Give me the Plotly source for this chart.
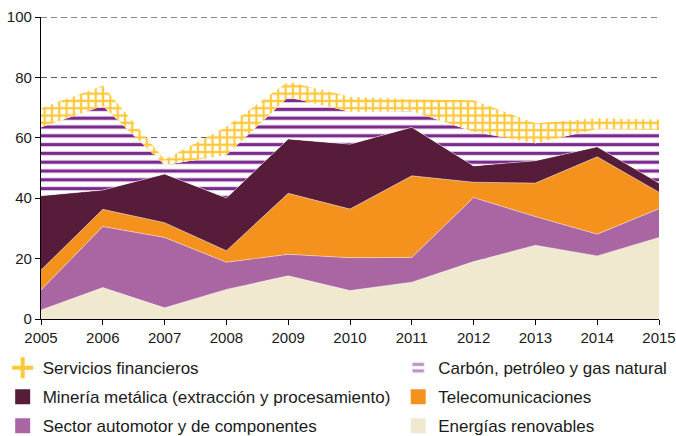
import plotly.graph_objects as go

YEARS = [2005, 2006, 2007, 2008, 2009, 2010, 2011, 2012, 2013, 2014, 2015]

# values per sector (stacked from bottom to top)
renovables = [3.0, 10.4, 3.7, 9.8, 14.3, 9.4, 12.2, 19.0, 24.4, 20.9, 27.0]
automotor = [6.6, 20.2, 23.3, 9.0, 7.1, 10.9, 8.2, 21.2, 9.5, 7.2, 9.5]
telecom = [6.6, 5.7, 4.9, 3.8, 20.2, 16.1, 27.0, 5.1, 11.1, 25.6, 5.5]
mineria = [24.6, 6.4, 16.1, 17.5, 18.0, 21.5, 16.1, 5.4, 7.4, 3.3, 3.0]
carbon = [22.7, 27.8, 3.0, 14.2, 13.8, 10.7, 5.4, 11.3, 5.8, 5.9, 17.6]
servicios = [6.3, 6.7, 1.8, 9.4, 5.2, 5.0, 3.9, 10.4, 6.6, 3.6, 3.5]

Y_TICKS = [0, 20, 40, 60, 80, 100]

CREAM = "#F0E9D0"
LILAC = "#AA66A3"
ORANGE = "#F5921E"
MAROON = "#561C3A"
PURPLE = "#7B2A8E"
YELLOW = "#FFC83A"
GRID = "#606060"
FONT = "Liberation Sans, Arial, sans-serif"

EDGE = dict(width=0.6, color="rgba(255,255,255,0.7)")

fig = go.Figure()

solid_layers = [
    ("Energías renovables", renovables, CREAM),
    ("Sector automotor y de componentes", automotor, LILAC),
    ("Telecomunicaciones", telecom, ORANGE),
    ("Minería metálica (extracción y procesamiento)", mineria, MAROON),
]
for name, vals, color in solid_layers:
    fig.add_trace(go.Scatter(
        x=YEARS, y=vals, name=name, stackgroup="s", mode="lines",
        line=EDGE, fillcolor=color, showlegend=False,
    ))

fig.add_trace(go.Scatter(
    x=YEARS, y=carbon, name="Carbón, petróleo y gas natural",
    stackgroup="s", mode="lines", line=dict(width=0),
    fillcolor="white",
    fillpattern=dict(shape="-", fgcolor=PURPLE, bgcolor="white",
                     size=8.8, solidity=0.38, fillmode="replace"),
    showlegend=False,
))
fig.add_trace(go.Scatter(
    x=YEARS, y=servicios, name="Servicios financieros",
    stackgroup="s", mode="lines", line=dict(width=0),
    fillcolor="white",
    fillpattern=dict(shape="+", fgcolor=YELLOW, bgcolor="white",
                     size=7.3, solidity=0.5, fillmode="replace"),
    showlegend=False,
))

# legend entries: two columns
fig.add_trace(go.Scatter(
    x=[None], y=[None], mode="markers", name="Servicios financieros",
    marker=dict(symbol="cross-thin", size=15, line=dict(width=4, color=YELLOW)),
    legend="legend", legendgroup="a1",
))
fig.add_trace(go.Scatter(
    x=[None], y=[None], mode="markers", name="Minería metálica (extracción y procesamiento)",
    marker=dict(symbol="square", size=15, color=MAROON),
    legend="legend", legendgroup="a2",
))
fig.add_trace(go.Scatter(
    x=[None], y=[None], mode="markers", name="Sector automotor y de componentes",
    marker=dict(symbol="square", size=15, color=LILAC),
    legend="legend", legendgroup="a3",
))
fig.add_trace(go.Bar(
    x=[None], y=[None], name="Carbón, petróleo y gas natural",
    marker=dict(color="white", pattern=dict(shape="-", fgcolor=PURPLE, bgcolor="white",
                                            size=8, solidity=0.5)),
    legend="legend2", legendgroup="b1",
))
fig.add_trace(go.Scatter(
    x=[None], y=[None], mode="markers", name="Telecomunicaciones",
    marker=dict(symbol="square", size=15, color=ORANGE),
    legend="legend2", legendgroup="b2",
))
fig.add_trace(go.Scatter(
    x=[None], y=[None], mode="markers", name="Energías renovables",
    marker=dict(symbol="square", size=15, color=CREAM),
    legend="legend2", legendgroup="b3",
))

leg = dict(
    orientation="v", yanchor="top", y=-0.103, xanchor="left",
    font=dict(family=FONT, size=17, color="#1a1a1a"),
    tracegroupgap=4, bgcolor="rgba(0,0,0,0)", borderwidth=0,
)

fig.update_layout(
    width=676, height=436,
    paper_bgcolor="white", plot_bgcolor="white",
    margin=dict(l=41, r=17, t=17, b=117, autoexpand=False),
    font=dict(family=FONT, size=15, color="#1a1a1a"),
    showlegend=True,
    legend=dict(leg, x=-0.062),
    legend2=dict(leg, x=0.578),
)

fig.update_xaxes(
    range=[2005, 2015], tickmode="array", tickvals=YEARS,
    ticks="outside", ticklen=5, tickcolor="black", tickwidth=1,
    showline=True, linecolor="black", linewidth=1.2,
    showgrid=False, zeroline=False, tickfont=dict(size=15),
)
fig.update_yaxes(
    range=[0, 100], tickmode="array", tickvals=Y_TICKS,
    ticks="outside", ticklen=5, tickcolor="black", tickwidth=1,
    showline=True, linecolor="black", linewidth=1.2,
    showgrid=True, gridcolor=GRID, gridwidth=1.4, griddash="6px,4px",
    zeroline=False, tickfont=dict(size=15),
)
# plotly skips the grid line sitting on the top edge, so draw it
fig.add_hline(y=100, line=dict(color=GRID, width=1.4, dash="6px,4px"), layer="below")

# the page body has a default 8px margin; remove it so the figure fills the window
fig.write_html(
    "out.html",
    config={"displayModeBar": False},
    post_script="document.body.style.margin = '0';",
)
